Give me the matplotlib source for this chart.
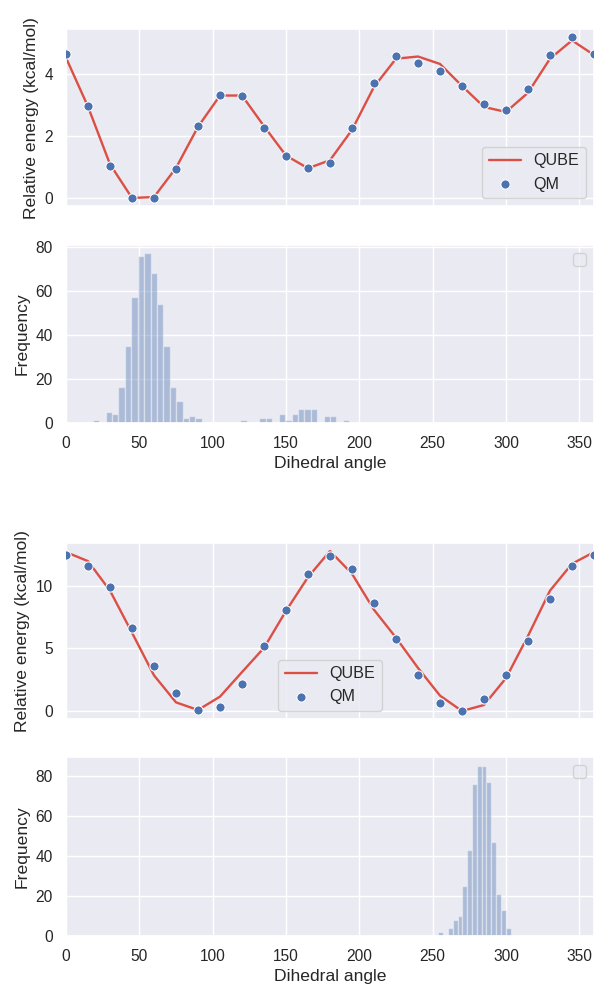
import numpy as np
import matplotlib
matplotlib.use('Agg')
import matplotlib.pyplot as plt
import seaborn as sns

# ---------------- data ----------------
angles = [0, 15, 30, 45, 60, 75, 90, 105, 120, 135, 150, 165, 180, 195,
          210, 225, 240, 255, 270, 285, 300, 315, 330, 345, 360]

qm_1 = [4.64, 2.96, 1.03, 0.0, 0.0, 0.92, 2.33, 3.32, 3.28, 2.27, 1.37, 0.96, 1.12, 2.26,
        3.73, 4.60, 4.37, 4.09, 3.62, 3.03, 2.83, 3.51, 4.61, 5.19, 4.64]
qube_1 = [4.53, 2.95, 1.09, 0.0, 0.03, 0.97, 2.30, 3.31, 3.31, 2.32, 1.37, 0.96, 1.22, 2.20,
          3.59, 4.50, 4.57, 4.33, 3.62, 2.94, 2.78, 3.40, 4.50, 5.09, 4.62]

qm_2 = [12.5, 11.58, 9.92, 6.61, 3.60, 1.45, 0.08, 0.29, 2.12, 5.16, 8.11, 10.97, 12.39, 11.37,
        8.63, 5.73, 2.90, 0.65, 0.0, 0.94, 2.85, 5.61, 8.92, 11.58, 12.5]
qube_2 = [12.7, 11.98, 9.62, 6.26, 2.85, 0.69, 0.08, 1.15, 3.11, 5.05, 8.0, 10.7, 12.79, 10.97,
          8.09, 5.86, 3.44, 1.23, 0.0, 0.48, 2.63, 6.0, 9.62, 11.77, 12.7]

hist1_start = 18.3
hist1_width = 4.37
hist1_counts = [1, 0, 5, 4, 16, 35, 57, 76, 77, 68, 54, 35, 16, 10, 2, 3, 2, 0, 0, 0,
                0, 0, 0, 1, 0, 0, 2, 2, 0, 4, 1, 4, 6, 6, 6, 0, 3, 3, 0, 1]

hist2_start = 253.8
hist2_width = 3.29
hist2_counts = [2, 0, 4, 8, 10, 25, 43, 76, 85, 85, 77, 47, 21, 13, 4]

xticks = [0, 50, 100, 150, 200, 250, 300, 350]

# ---------------- style ----------------
sns.set_theme(style='darkgrid')
plt.rcParams['font.family'] = ['Liberation Sans', 'DejaVu Sans']
plt.rcParams['axes.labelsize'] = 12.6
plt.rcParams['xtick.labelsize'] = 11.2
plt.rcParams['ytick.labelsize'] = 11.2
plt.rcParams['legend.fontsize'] = 11.6

line_red = '#db4f45'
dot_blue = '#4C72B0'

fig = plt.figure(figsize=(5.94, 9.84), dpi=100)
W, H = 594.0, 984.0
left = 66 / W
width = (W - 66) / W


def rect(top, bottom):
    return [left, 1 - bottom / H, width, (bottom - top) / H]


ax1 = fig.add_axes(rect(29.3, 206))
ax2 = fig.add_axes(rect(245, 422.5))
ax3 = fig.add_axes(rect(543, 719))
ax4 = fig.add_axes(rect(757, 935.5))


def energy(ax, qm, qube, loc):
    ax.plot(angles, qube, color=line_red, lw=1.7, label='QUBE', zorder=2)
    ax.scatter(angles, qm, s=44, color=dot_blue, edgecolor='white', linewidth=0.75,
               label='QM', zorder=3)
    ax.set_xlim(0, 360)
    ax.set_xticks(xticks)
    ax.set_xticklabels([])
    ax.set_ylabel('Relative energy (kcal/mol)')
    ax.legend(loc=loc)


def hist(ax, start, bw, counts):
    edges = start + bw * np.arange(len(counts))
    ax.bar(edges, counts, width=bw, align='edge', color=dot_blue, alpha=0.4,
           edgecolor='white', linewidth=1.0)
    ax.set_xlim(0, 360)
    ax.set_xticks(xticks)
    ax.set_xlabel('Dihedral angle')
    ax.set_ylabel('Frequency')
    ax.legend(handles=[], loc='upper right')


energy(ax1, qm_1, qube_1, 'lower right')
ax1.set_yticks([0, 2, 4])
hist(ax2, hist1_start, hist1_width, hist1_counts)
ax2.set_yticks([0, 20, 40, 60, 80])
energy(ax3, qm_2, qube_2, 'lower center')
ax3.set_yticks([0, 5, 10])
hist(ax4, hist2_start, hist2_width, hist2_counts)
ax4.set_yticks([0, 20, 40, 60, 80])

fig.savefig('out.png', dpi=100)
